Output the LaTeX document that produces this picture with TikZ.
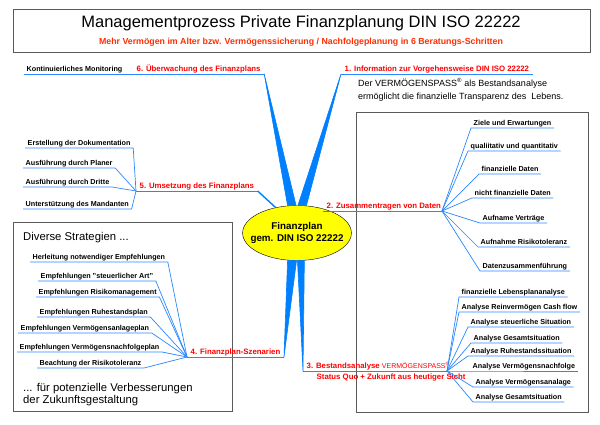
\documentclass[tikz,border=0pt]{standalone}
\usepackage{fontspec}
\setmainfont{Liberation Sans}
\usetikzlibrary{calc, shapes.geometric}
\definecolor{PlanYellow}{RGB}{255, 255, 0}
\definecolor{StemBlue}{RGB}{0, 128, 255}
\definecolor{TwigBlue}{RGB}{40, 135, 255}
\definecolor{StepRed}{RGB}{255, 0, 0}
\definecolor{SubRed}{RGB}{255, 45, 0}
\definecolor{FrameGrey}{RGB}{90, 90, 90}

\begin{document}
\begin{tikzpicture}[x=1pt, y=-1pt,
    frame/.style={draw=FrameGrey, line width=0.9pt},
    twig/.style={TwigBlue, line width=0.7pt},
    stem/.style={fill=StemBlue, draw=StemBlue, line width=0.6pt, line join=round},
    leaf/.style={font=\bfseries\fontsize{7.2}{8}\selectfont, text height=5.4pt, text depth=1.6pt,
        inner xsep=2.5pt, inner ysep=0.6pt, anchor=south west},
    branch/.style={font=\bfseries\fontsize{7.8}{9}\selectfont, text=StepRed, text height=5.8pt,
        text depth=1.7pt, inner xsep=3.5pt, inner ysep=0.6pt, anchor=south west},
    info/.style={font=\fontsize{9}{11}\selectfont, inner sep=2pt, anchor=base west},
    note/.style={font=\fontsize{11.3}{13}\selectfont, inner sep=2pt, anchor=base west}]
    \useasboundingbox (0,0) rectangle (600,424);

    % Titel
    \draw[frame] (13,9) rectangle (590,52);
    \node[font=\fontsize{16.5}{18}\selectfont] (title) at (301,23)
        {Managementprozess Private Finanzplanung DIN ISO 22222};
    \node[font=\bfseries\fontsize{8.8}{10}\selectfont, text=SubRed] (sub) at (301,42)
        {Mehr Vermögen im Alter bzw. Vermögenssicherung / Nachfolgeplanung in 6 Beratungs-Schritten};

    % Rahmen
    \draw[frame] (356,112) rectangle (588,412);
    \draw[frame] (13,222) rectangle (232,411);

    % Mitte
    \node[ellipse, draw, fill=PlanYellow, inner xsep=-8pt, inner ysep=-4pt, minimum width=108,
        minimum height=55, align=center, font=\bfseries\fontsize{9.8}{12}\selectfont] (plan)
        at (297,233) {Finanzplan\\gem. DIN ISO 22222};

    % Verzweigungen
    \coordinate (j2) at (442,211);
    \coordinate (j3) at (447,371);
    \coordinate (j4) at (187,357);
    \coordinate (j5) at (136,191);

    % 1. Information
    \node[branch] (n1) at (341,74) {1. Information zur Vorgehensweise DIN ISO 22222};
    \draw[twig] (n1.south west) -- (n1.south east);
    \fill[stem] (n1.south west) -- (plan.88) -- (plan.71) -- cycle;
    \node[info] (pass) at (356,86) {Der VERMÖGENSPASS\textsuperscript{®} als Bestandsanalyse};
    \node[info] (transp) at (356,99) {ermöglicht die finanzielle Transparenz des\ \ Lebens.};

    % 2. Daten
    \node[branch] (n2) at (323,211) {2. Zusammentragen von Daten};
    \draw[twig] (n2.south west) -- (j2);
    \foreach \n/\x/\y/\txt in {z1/471/128/Ziele und Erwartungen, z2/468/151/qualiitativ und quantitativ,
        z3/479/174/finanzielle Daten, z4/472/198/nicht finanzielle Daten, z5/480/223/Aufname Verträge,
        z6/478/247/Aufnahme Risikotoleranz, z7/480/271/Datenzusammenführung}{
        \node[leaf] (\n) at (\x,\y) {\txt};
        \draw[twig] (j2) -- (\n.south west) -- (\n.south east);
    }

    % 3. Bestandsanalyse
    \node[branch] (n3) at (303,371)
        {3. Bestandsanalyse {\mdseries\fontsize{7}{8}\selectfont VERMÖGENSPASS\textsuperscript{®}}};
    \node[branch, anchor=base west] (n3b) at (313,379) {Status Quo + Zukunft aus heutiger Sicht};
    \draw[twig] (n3.south west) -- (j3);
    \fill[stem] (n3.south west) -- (plan.271) -- (plan.285) -- cycle;
    \foreach \n/\x/\y/\txt in {a1/459/297/finanzielle Lebensplananalyse, a2/459/312/Analyse Reinvermögen Cash flow,
        a3/468/327/Analyse steuerliche Situation, a4/471/343/Analyse Gesamtsituation,
        a5/468/356/Analyse Ruhestandssituation, a6/470/371/Analyse Vermögensnachfolge,
        a7/473/387/Analyse Vermögensanalage, a8/473/402/Analyse Gesamtsituation}{
        \node[leaf] (\n) at (\x,\y) {\txt};
        \draw[twig] (j3) -- (\n.south west) -- (\n.south east);
    }

    % 4. Szenarien
    \node[note] (str1) at (21,240) {Diverse Strategien ...};
    \node[note] (str2) at (21,391) {... für potenzielle Verbesserungen};
    \node[note] (str3) at (21,403) {der Zukunftsgestaltung};
    \node[branch] (n4) at (j4) {4. Finanzplan-Szenarien};
    \draw[twig] (j4) -- (n4.south east);
    \fill[stem] (n4.south east) -- (plan.251) -- (plan.269) -- cycle;
    \foreach \n/\x/\y/\txt in {e1/30/262/Herleitung notwendiger Empfehlungen,
        e2/38/281/Empfehlungen "steuerlicher Art", e3/36/297/Empfehlungen Risikomanagement,
        e4/37/317/Empfehlungen Ruhestandsplan, e5/18/333/Empfehlungen Vermögensanlageplan,
        e6/17/352/Empfehlungen Vermögensnachfolgeplan, e7/37/368/Beachtung der Risikotoleranz}{
        \node[leaf] (\n) at (\x,\y) {\txt};
        \draw[twig] (\n.south west) -- (\n.south east) -- (j4);
    }

    % 5. Umsetzung
    \node[branch] (n5) at (j5) {5. Umsetzung des Finanzplans};
    \draw[twig] (j5) -- (n5.south east);
    \draw[StemBlue, line width=1.4pt] (n5.south east) -- (plan.130);
    \foreach \n/\x/\y/\txt in {u1/25/148/Erstellung der Dokumentation, u2/23/168/Ausführung durch Planer,
        u3/23/187/Ausführung durch Dritte, u4/23/209/Unterstützung des Mandanten}{
        \node[leaf] (\n) at (\x,\y) {\txt};
        \draw[twig] (\n.south west) -- (\n.south east) -- (j5);
    }

    % 6. Überwachung
    \node[leaf] (mon) at (24,74) {Kontinuierliches Monitoring};
    \node[branch] (n6) at (133,74) {6. Überwachung des Finanzplans};
    \draw[twig] (mon.south west) -- (n6.south east);
    \fill[stem] (n6.south east) -- (plan.109) -- (plan.92) -- cycle;
\end{tikzpicture}
\end{document}
